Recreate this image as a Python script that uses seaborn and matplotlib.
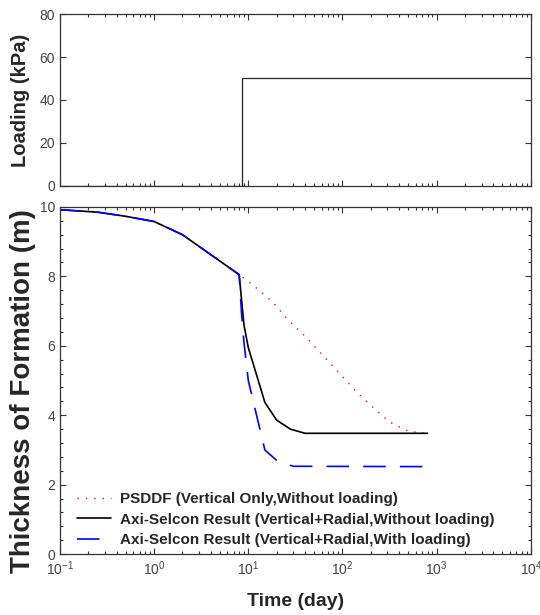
import numpy as np
import pandas as pd
import matplotlib
matplotlib.use("Agg")
import matplotlib.pyplot as plt
import seaborn as sns
from matplotlib.ticker import LogLocator, MultipleLocator, NullFormatter

## dados

# carregamento (kPa)
t_load = [0.1, 8.5, 8.5, 10000]
load = [0, 0, 50, 50]

# trecho comum antes do carregamento
t_comum = [0.1, 0.25, 0.5, 1, 2, 8]
h_comum = [9.92, 9.85, 9.73, 9.58, 9.2, 8.05]

# PSDDF (somente vertical, sem carregamento)
t_psddf = [8, 10, 12, 18, 26, 40, 70, 100, 145, 220, 270, 340, 500, 800]
h_psddf = [8.05, 7.85, 7.68, 7.27, 6.77, 6.28, 5.57, 5.11, 4.64, 4.18, 3.96, 3.76, 3.54, 3.47]

# Axi-Selcon sem carregamento
t_sem = [8, 8.5, 9, 10, 15, 20, 28, 40, 800]
h_sem = [8.05, 7.3, 6.6, 5.95, 4.37, 3.86, 3.6, 3.48, 3.48]

# Axi-Selcon com carregamento
t_com = [8, 8.5, 9, 10, 12, 15, 20, 30, 800]
h_com = [8.05, 6.9, 6.1, 5.0, 4.1, 3.0, 2.7, 2.53, 2.52]

df_load = pd.DataFrame({"t": t_load, "q": load})
df_psddf = pd.DataFrame({"t": t_comum + t_psddf, "h": h_comum + h_psddf})
df_sem = pd.DataFrame({"t": t_comum + t_sem, "h": h_comum + h_sem})
df_com = pd.DataFrame({"t": t_comum + t_com, "h": h_comum + h_com})

sns.set_style("ticks")
plt.rcParams["font.family"] = ["Liberation Sans", "DejaVu Sans"]
plt.rcParams["axes.edgecolor"] = "#333333"
plt.rcParams["xtick.color"] = "#333333"
plt.rcParams["ytick.color"] = "#333333"
plt.rcParams["xtick.labelcolor"] = "#444444"
plt.rcParams["ytick.labelcolor"] = "#444444"

fig = plt.figure(figsize=(5.4, 6.15), dpi=100)
ax1 = fig.add_axes([0.111, 0.698, 0.872, 0.279])
ax2 = fig.add_axes([0.111, 0.099, 0.872, 0.5645])

## painel de carregamento
sns.lineplot(data=df_load, x="t", y="q", ax=ax1, color="#222222",
             linewidth=0.9, sort=False, estimator=None)

## painel de espessura
sns.lineplot(data=df_psddf, x="t", y="h", ax=ax2, color="red",
             linewidth=1.0, linestyle=(0, (1, 5)), sort=False, estimator=None,
             label="PSDDF (Vertical Only,Without loading)")
sns.lineplot(data=df_sem, x="t", y="h", ax=ax2, color="black",
             linewidth=1.2, sort=False, estimator=None,
             label="Axi-Selcon Result (Vertical+Radial,Without loading)")
sns.lineplot(data=df_com, x="t", y="h", ax=ax2, color="blue",
             linewidth=1.2, linestyle=(0, (13.5, 8.5)), sort=False, estimator=None,
             label="Axi-Selcon Result (Vertical+Radial,With loading)")

for ax in (ax1, ax2):
    ax.set_xscale("log")
    ax.set_xlim(0.1, 10000)
    ax.xaxis.set_major_locator(LogLocator(base=10, numticks=10))
    ax.xaxis.set_minor_locator(LogLocator(base=10, subs=np.arange(2, 10), numticks=10))
    ax.xaxis.set_minor_formatter(NullFormatter())
    ax.tick_params(which="both", direction="in", top=True, right=True,
                   labelsize=10, width=0.8)
    ax.tick_params(which="major", length=4)
    ax.tick_params(which="minor", length=2)
    for s in ax.spines.values():
        s.set_linewidth(0.9)

ax1.set_ylim(0, 80)
ax1.yaxis.set_major_locator(MultipleLocator(20))
ax1.tick_params(axis="x", labelbottom=False)
ax1.set_xlabel("")
ax1.set_ylabel("Loading (kPa)", fontsize=14.5, fontweight="bold", labelpad=7)

ax2.set_ylim(0, 10)
ax2.yaxis.set_major_locator(MultipleLocator(2))
ax2.yaxis.set_minor_locator(MultipleLocator(0.4))
ax2.set_xlabel("Time (day)", fontsize=14, fontweight="bold", labelpad=11)
ax2.set_ylabel("Thickness of Formation (m)", fontsize=20, fontweight="bold")
ax2.yaxis.set_label_coords(-0.05, 0.47)

leg = ax2.legend(loc="lower left", bbox_to_anchor=(0.036, 0.02), frameon=False,
                 prop={"weight": "bold", "size": 11}, handlelength=2.2,
                 handletextpad=0.65, labelspacing=0.42, borderpad=0,
                 borderaxespad=0)

plt.savefig("out.png", dpi=100)
